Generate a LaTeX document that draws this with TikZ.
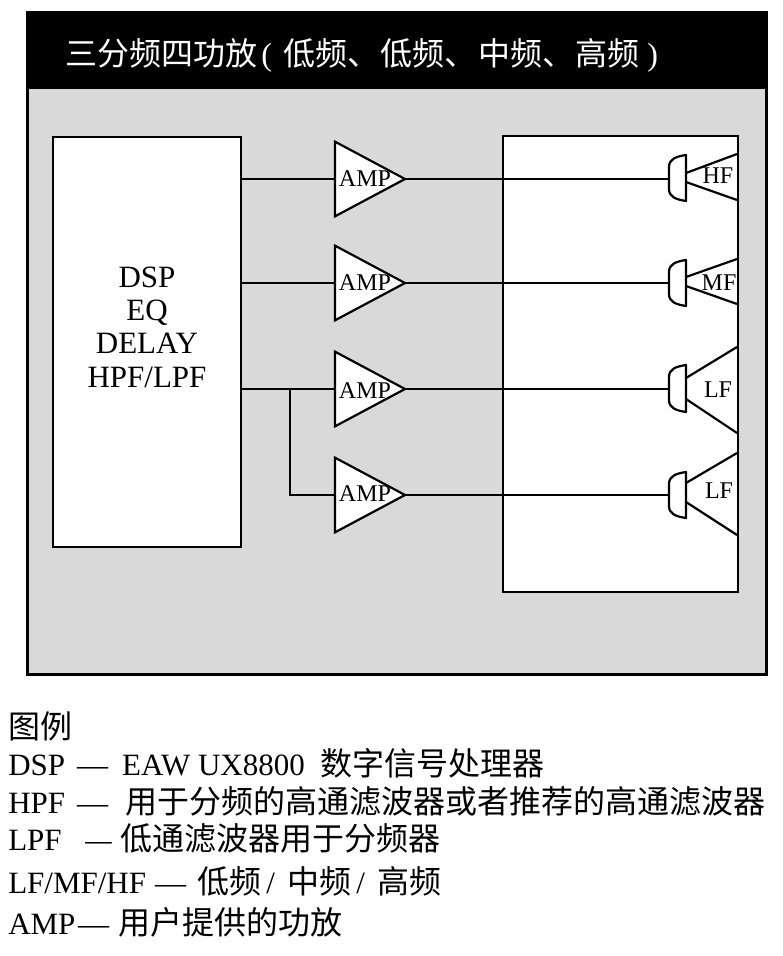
\documentclass[tikz,border=0pt]{standalone}
\usepackage{fontspec}
\setmainfont{Liberation Serif}
\newfontfamily\cjk{Noto Sans CJK SC}
\usetikzlibrary{shapes.geometric}
\newcommand{\mk}[2]{\makebox[#1\dimexpr0.75pt\relax][l]{#2}}
\tikzset{
 x=0.75pt,y=-0.75pt,
 wire/.style={line width=1.65pt,line cap=butt},
 boxw/.style={draw,line width=1.65pt,fill=white,rectangle,inner sep=0pt,outer sep=0pt,minimum width=#1},
 amptri/.style={draw,line width=1.65pt,fill=white,isosceles triangle,isosceles triangle stretches,shape border rotate=0,minimum width=56pt,minimum height=52.5pt,inner sep=0pt,outer sep=0pt,anchor=apex},
 amplbl/.style={font=\fontsize{18}{18}\selectfont,inner sep=0pt,anchor=center},
 spklbl/.style={font=\fontsize{18}{18}\selectfont,inner sep=0pt,anchor=center},
 dsplbl/.style={font=\fontsize{23.25}{25}\selectfont,align=center,inner sep=0pt},
 legend/.style={font=\fontsize{23.25}{25}\selectfont,anchor=base west,inner sep=0pt},
 titletxt/.style={font=\fontsize{24}{25}\selectfont,text=white,anchor=base west,inner sep=0pt},
 driver/.style={draw,line width=1.65pt,fill=white,line join=round},
 cone/.style={line width=1.65pt},
}
\newcommand{\speaker}[3]{% top y, bottom y
 \draw[driver] (686,#1) .. controls (676,#1+1.5) and (669,#1+4) .. (669,#1+12) -- (669,#2-12) .. controls (669,#2-4) and (676,#2-1.5) .. (686,#2) -- cycle;
}
\begin{document}
\begin{tikzpicture}
\useasboundingbox (0,0) rectangle (782,956);
\fill[white] (0,0) rectangle (782,956);
\draw[fill=black!15,line width=2.25pt] (27.5,14) rectangle (766.5,674);
\fill[black] (26,11) rectangle (768,89.5);
\node[titletxt] (title) at (65,65) {\cjk\mk{196}{三分频四功放}\rmfamily\mk{22}{(}\cjk\mk{97}{低频、}\mk{98}{低频、}\mk{97}{中频、}\mk{72}{高频}\rmfamily)};

\node[boxw=141pt,minimum height=307.5pt] (dsp) at (147,342) {};
\node[dsplbl] (dsptxt) at (147,327) {DSP\\EQ\\DELAY\\HPF/LPF};
\node[boxw=176.25pt,minimum height=342pt] (cab) at (620.5,364) {};

\node[amptri] (a1) at (405,179) {};
\node[amptri] (a2) at (405,283) {};
\node[amptri] (a3) at (405,389) {};
\node[amptri] (a4) at (405,495) {};
\node[amplbl] (a1t) at (365,179) {AMP};
\node[amplbl] (a2t) at (365,283) {AMP};
\node[amplbl] (a3t) at (365,391) {AMP};
\node[amplbl] (a4t) at (365,494) {AMP};

\coordinate (s1) at (669,179);
\coordinate (s2) at (669,283);
\coordinate (s3) at (669,389);
\coordinate (s4) at (669,495);
\coordinate (j) at (290,389);
\coordinate (jb) at (290,495);

\draw[wire] (a1.apex) -- (s1);
\draw[wire] (a2.apex) -- (s2);
\draw[wire] (a3.apex) -- (s3);
\draw[wire] (a4.apex) -- (s4);
\draw[wire] (dsp.east |- a1.apex) -- (a1.left corner |- a1.apex);
\draw[wire] (dsp.east |- a2.apex) -- (a2.left corner |- a2.apex);
\draw[wire] (dsp.east |- a3.apex) -- (a3.left corner |- a3.apex);
\draw[wire] (j) -- (jb) -- (a4.left corner |- a4.apex);

\draw[cone] (686,173) -- (737,154) (686,182) -- (737,200);
\draw[cone] (686,277) -- (737,259) (686,286) -- (737,304);
\draw[cone] (686,378) -- (737,347) (686,399) -- (737,433);
\draw[cone] (686,483) -- (737,453) (686,502) -- (737,535);
\speaker{155}{201}{}
\speaker{260}{306}{}
\speaker{365}{412}{}
\speaker{472}{518}{}
\node[spklbl] (hf) at (718,176) {HF};
\node[spklbl] (mf) at (719,283) {MF};
\node[spklbl] (lf1) at (718,390) {LF};
\node[spklbl] (lf2) at (719,491) {LF};

\node[legend] (l0) at (8,738) {\fontsize{24}{25}\cjk 图例};
\node[legend] (l1) at (8,775) {\mk{69}{DSP}\mk{45}{—}\mk{198}{EAW UX8800}{\fontsize{24}{25}\cjk 数字信号处理器}};
\node[legend] (l2) at (8,813) {\mk{69}{HPF}\mk{48}{—}{\fontsize{24}{25}\cjk 用于分频的高通滤波器或者推荐的高通滤波器}};
\node[legend] (l3) at (8,850) {\mk{77}{LPF}\mk{35}{\scalebox{.85}[1]{—}}{\fontsize{24}{25}\cjk 低通滤波器用于分频器}};
\node[legend] (l4) at (8,893) {\mk{147}{LF/MF/HF}\mk{42}{—}{\fontsize{24}{25}\cjk 低频}\mk{26}{\,/}{\fontsize{24}{25}\cjk 中频}\mk{26}{\,/}{\fontsize{24}{25}\cjk 高频}};
\node[legend] (l5) at (8,934) {\mk{70}{AMP}\mk{40}{—}{\fontsize{24}{25}\cjk 用户提供的功放}};
\end{tikzpicture}
\end{document}
